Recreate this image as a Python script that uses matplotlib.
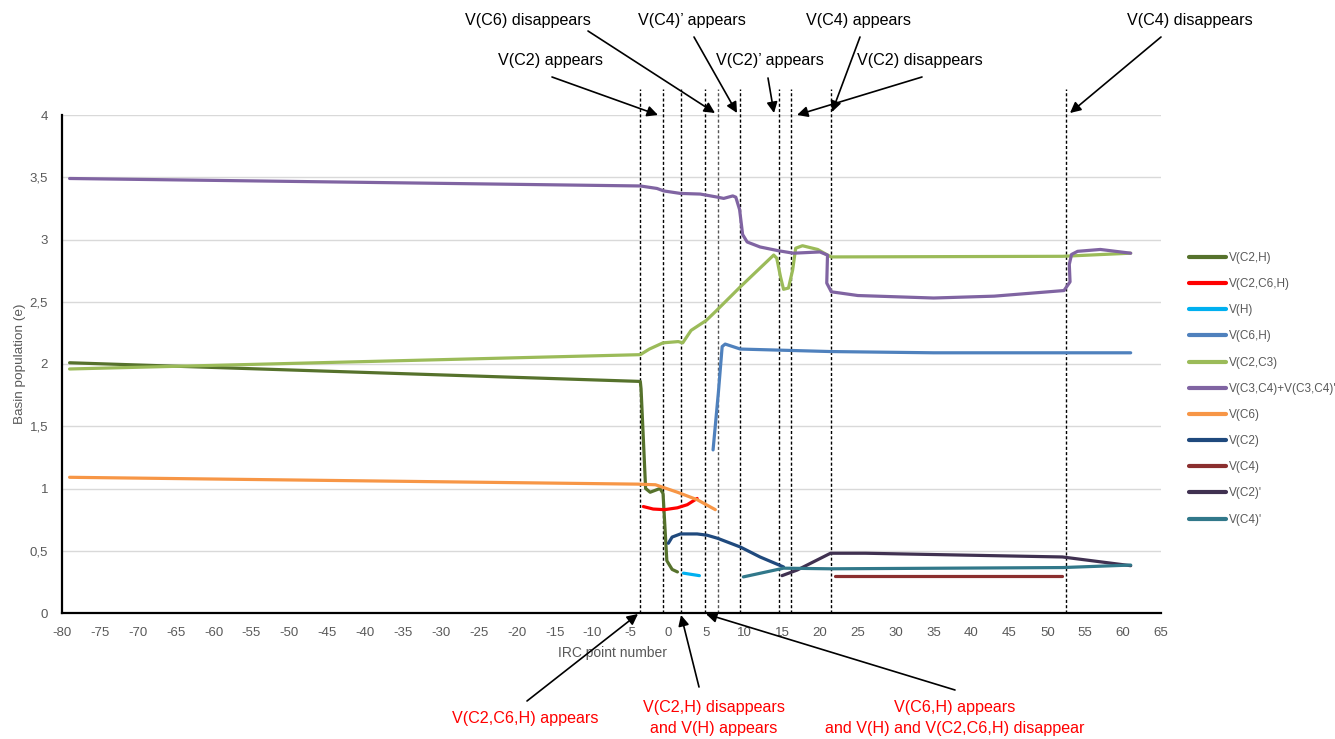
import matplotlib
matplotlib.use("Agg")
import matplotlib.pyplot as plt
import numpy as np

plt.rcParams['font.family'] = ['Liberation Sans Narrow', 'Liberation Sans', 'DejaVu Sans']
plt.rcParams['axes.unicode_minus'] = False

# series (IRC point number, basin population)
c2h_x = [-79, -3.7, -3.6, -3.0, -2.4, -1.1, -0.7, -0.2, 0.5, 1.2]
c2h_y = [2.01, 1.86, 1.80, 1.00, 0.97, 1.00, 0.96, 0.42, 0.35, 0.33]

c2c6h_x = [-3.3, -2.0, -0.5, 1.2, 2.5, 3.8]
c2c6h_y = [0.855, 0.835, 0.83, 0.845, 0.87, 0.92]

h_x = [2.0, 4.1]
h_y = [0.32, 0.30]

c6h_x = [5.9, 6.6, 7.1, 7.5, 8.5, 9.5, 21.4, 35, 61]
c6h_y = [1.31, 1.77, 2.14, 2.16, 2.14, 2.12, 2.10, 2.09, 2.09]

c2c3_x = [-79, -3.7, -2.5, -0.7, 1.3, 1.9, 3.0, 5.0, 6.2, 9.5, 13.9, 14.3, 14.8, 15.2,
          15.85, 16.4, 16.8, 17.7, 19.7, 21.0, 21.5, 52, 61]
c2c3_y = [1.96, 2.075, 2.12, 2.17, 2.18, 2.17, 2.27, 2.35, 2.42, 2.62, 2.875, 2.85, 2.70, 2.60,
          2.61, 2.755, 2.93, 2.95, 2.92, 2.875, 2.86, 2.865, 2.89]

c3c4_x = [-79, -3.7, -1.5, -0.6, 1.6, 4.2, 6.5, 7.3, 8.5, 8.9, 9.4, 9.8, 10.4, 12.1, 14.5,
          16.5, 20.0, 21.0, 20.9, 21.5, 25, 35, 43, 52.2, 53.0, 52.9, 53.2, 54, 57, 61]
c3c4_y = [3.49, 3.43, 3.41, 3.39, 3.37, 3.365, 3.34, 3.33, 3.35, 3.34, 3.24, 3.04, 2.98, 2.94, 2.91,
          2.89, 2.90, 2.875, 2.65, 2.58, 2.55, 2.53, 2.545, 2.59, 2.66, 2.80, 2.88, 2.905, 2.92, 2.89]

c6_x = [-79, -4, -1.7, 1.2, 3.8, 6.2]
c6_y = [1.09, 1.035, 1.03, 0.97, 0.91, 0.83]

c2_x = [0, 0.5, 1.6, 3.8, 5.1, 6.5, 9.5, 12.1, 15.2]
c2_y = [0.56, 0.61, 0.635, 0.635, 0.625, 0.60, 0.53, 0.45, 0.37]

c4_x = [22, 52]
c4_y = [0.30, 0.30]

c2p_x = [15, 17, 21.4, 26, 52, 61]
c2p_y = [0.30, 0.345, 0.48, 0.48, 0.45, 0.38]

c4p_x = [9.9, 15.2, 21.4, 52, 61]
c4p_y = [0.29, 0.36, 0.355, 0.365, 0.385]

series = [
    ("V(C2,H)", c2h_x, c2h_y, "#56722C"),
    ("V(C2,C6,H)", c2c6h_x, c2c6h_y, "#FF0000"),
    ("V(H)", h_x, h_y, "#00B0F0"),
    ("V(C6,H)", c6h_x, c6h_y, "#4F81BD"),
    ("V(C2,C3)", c2c3_x, c2c3_y, "#9BBB59"),
    ("V(C3,C4)+V(C3,C4)'", c3c4_x, c3c4_y, "#8064A2"),
    ("V(C6)", c6_x, c6_y, "#F79646"),
    ("V(C2)", c2_x, c2_y, "#1F497D"),
    ("V(C4)", c4_x, c4_y, "#8B2F2F"),
    ("V(C2)'", c2p_x, c2p_y, "#403151"),
    ("V(C4)'", c4p_x, c4p_y, "#31788A"),
]

# IRC points where basins appear / disappear
events = [-3.7, -0.65, 1.7, 4.9, 6.6, 9.5, 14.6, 16.2, 21.4, 52.4]

W, H = 1335, 739
fig = plt.figure(figsize=(W / 100, H / 100), dpi=100)
ax = fig.add_axes([62 / W, 1 - 613 / H, (1161 - 62) / W, (613 - 115) / H])


def fp(px, py):
    # image pixel -> figure fraction
    return (px / W, 1 - py / H)


for name, xs, ys, col in series:
    ax.plot(xs, ys, color=col, lw=2.3, label=name, solid_capstyle='round', zorder=3)

for xv in events:
    col = '#555555' if xv == 6.6 else 'black'
    ax.plot([xv, xv], [0, 4.21], color=col, lw=1.0, ls=(0, (2.2, 1.6)), clip_on=False, zorder=2)

ax.set_xlim(-80, 65)
ax.set_ylim(0, 4)
ax.set_xticks(np.arange(-80, 66, 5))
yt = np.arange(0, 4.01, 0.5)
ax.set_yticks(yt)
ax.set_yticklabels([f"{v:g}".replace('.', ',') for v in yt])
ax.tick_params(length=0, colors='#595959', labelsize=9.5)
ax.tick_params(axis='x', pad=10)
ax.tick_params(axis='y', pad=10)
ax.yaxis.grid(True, color='#D9D9D9', lw=1)
ax.set_axisbelow(True)
for s in ['top', 'right']:
    ax.spines[s].set_visible(False)
for s in ['left', 'bottom']:
    ax.spines[s].set_linewidth(1.6)
    ax.spines[s].set_color('black')

ax.set_ylabel('Basin population (e)', color='#595959', fontsize=9.7)
ax.yaxis.set_label_coords(-0.033, 0.5)
ax.set_xlabel('IRC point number', color='#595959', fontsize=10)
ax.xaxis.set_label_coords(0.5005, -0.066)

leg = fig.legend(loc='upper left', bbox_to_anchor=fp(1189, 252), frameon=False,
                 fontsize=8.5, labelspacing=1.2, handlelength=3.1, handletextpad=0.25,
                 borderpad=0, borderaxespad=0)
for t in leg.get_texts():
    t.set_color('#595959')
for l in leg.get_lines():
    l.set_linewidth(3)

# annotations: (text, text centre px, arrow start px, arrow tip px)
top_notes = [
    ("V(C6) disappears", (528, 20), (588, 31), (715, 113)),
    ("V(C4)\u2019 appears", (692, 20), (694, 37), (737, 113)),
    ("V(C4) appears", (858, 20), (860, 37), (832, 112)),
    ("V(C4) disappears", (1190, 20), (1161, 37), (1070, 113)),
    ("V(C2) appears", (550, 61), (552, 77), (658, 115)),
    ("V(C2)\u2019 appears", (770, 61), (768, 78), (774, 113)),
    ("V(C2) disappears", (920, 61), (922, 77), (797, 115)),
]
bottom_notes = [
    ("V(C2,C6,H) appears", (525, 718), (527, 701), (638, 614)),
    ("V(C2,H) disappears\nand V(H) appears", (714, 718), (699, 687), (681, 615)),
    ("V(C6,H) appears\nand V(H) and V(C2,C6,H) disappear", (955, 718), (955, 690), (706, 614)),
]

for txt, tpos, a0, a1 in top_notes:
    fig.text(*fp(*tpos), txt, ha='center', va='center', fontsize=11.6, color='black')
    ax.annotate('', xy=fp(*a1), xycoords='figure fraction', xytext=fp(*a0),
                textcoords='figure fraction', annotation_clip=False,
                arrowprops=dict(arrowstyle='-|>', color='black', lw=1.2,
                                mutation_scale=16, shrinkA=0, shrinkB=0))

for txt, tpos, a0, a1 in bottom_notes:
    fig.text(*fp(*tpos), txt, ha='center', va='center', fontsize=11.6, color='#FF0000',
             linespacing=1.45)
    ax.annotate('', xy=fp(*a1), xycoords='figure fraction', xytext=fp(*a0),
                textcoords='figure fraction', annotation_clip=False,
                arrowprops=dict(arrowstyle='-|>', color='black', lw=1.2,
                                mutation_scale=16, shrinkA=0, shrinkB=0))

fig.savefig('out.png', dpi=100)
